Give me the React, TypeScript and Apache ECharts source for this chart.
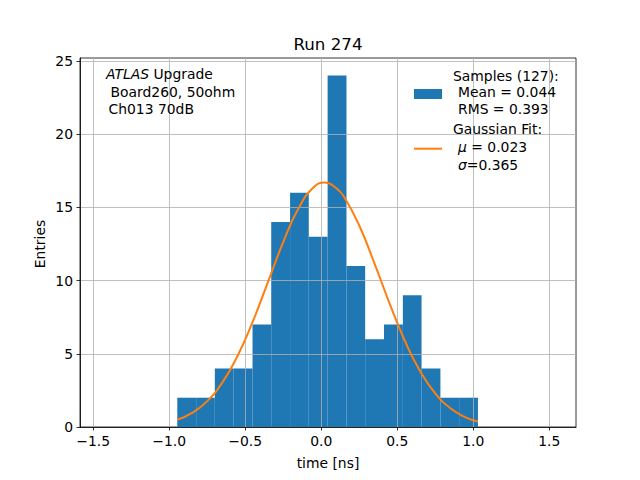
import * as echarts from 'echarts'
import { useEffect, useRef } from 'react'

// histogram bins (time in ns) and entries per bin
const binEdges = [-0.947, -0.823, -0.7, -0.576, -0.452, -0.329, -0.205, -0.082, 0.042, 0.166, 0.289, 0.413, 0.537, 0.66, 0.784, 0.907, 1.031]
const counts = [2, 2, 4, 4, 7, 14, 16, 13, 24, 11, 6, 7, 9, 4, 2, 2]

// gaussian fit curve
const fitX = [-0.947, -0.85, -0.75, -0.65, -0.55, -0.45, -0.35, -0.25, -0.15, -0.05, 0.023, 0.1, 0.15, 0.25, 0.35, 0.45, 0.55, 0.65, 0.75, 0.85, 0.95, 1.031]
const fitY = [0.49, 0.96, 1.77, 3.05, 4.87, 7.21, 9.91, 12.62, 14.92, 16.37, 16.7, 16.3, 15.72, 13.76, 11.18, 8.43, 5.89, 3.82, 2.3, 1.28, 0.66, 0.37]

const xTicks = [-1.5, -1.0, -0.5, 0.0, 0.5, 1.0, 1.5]
const yTicks = [0, 5, 10, 15, 20, 25]

const FONT = 'DejaVu Sans'
const FS = 13.9

const txt = (x: number, y: number, text: string, extra: any = {}) => ({
  type: 'text',
  x,
  y,
  z: 10,
  style: {
    text,
    fontFamily: FONT,
    fontSize: FS,
    fill: '#000',
    verticalAlign: 'middle',
    ...extra
  }
})

const App = () => {
  const ref = useRef<HTMLDivElement>(null)

  useEffect(() => {
    document.body.style.margin = '0'
    if (!ref.current) return
    const chart = echarts.init(ref.current, null, { renderer: 'svg' })

    const histData = counts.map((c, i) => [binEdges[i], binEdges[i + 1], c])
    const fitData = fitX.map((x, i) => [x, fitY[i]])

    const axisCommon = {
      z: 3,
      axisLine: { show: true, onZero: false, lineStyle: { color: '#000', width: 0.8 } },
      axisTick: { show: true, inside: false, length: 3.5, lineStyle: { color: '#000', width: 0.8 } },
      splitLine: { show: true, lineStyle: { color: '#b0b0b0', width: 0.8 } },
    }

    chart.setOption({
      animation: false,
      grid: { left: 80, right: 64, top: 58, bottom: 53, show: true, borderColor: '#000', borderWidth: 0.8, backgroundColor: 'transparent' },
      xAxis: {
        type: 'value',
        min: -1.587,
        max: 1.676,
        ...axisCommon,
        axisTick: { ...axisCommon.axisTick, customValues: xTicks },
        axisLabel: {
          customValues: xTicks,
          margin: 7,
          fontFamily: FONT,
          fontSize: FS,
          color: '#000',
          formatter: (v: number) => v.toFixed(1).replace('-', '\u2212')
        }
      },
      yAxis: {
        type: 'value',
        min: 0,
        max: 25.2,
        ...axisCommon,
        axisTick: { ...axisCommon.axisTick, customValues: yTicks },
        axisLabel: {
          customValues: yTicks,
          margin: 7,
          fontFamily: FONT,
          fontSize: FS,
          color: '#000'
        }
      },
      series: [
        {
          type: 'custom',
          z: 2,
          data: histData,
          encode: { x: [0, 1], y: 2 },
          renderItem: (_params: any, api: any) => {
            const p0 = api.coord([api.value(0), api.value(2)])
            const p1 = api.coord([api.value(1), 0])
            return {
              type: 'rect',
              shape: { x: p0[0], y: p0[1], width: p1[0] - p0[0], height: p1[1] - p0[1] },
              style: { fill: '#1f77b4' }
            }
          }
        },
        {
          type: 'line',
          z: 5,
          data: fitData,
          smooth: true,
          showSymbol: false,
          symbol: 'none',
          lineStyle: { color: '#ff7f0e', width: 2 }
        }
      ],
      graphic: [
        txt(328, 44, 'Run 274', { fontSize: 16.7, align: 'center' }),
        txt(328, 463, 'time [ns]', { align: 'center' }),
        { ...txt(40, 244, 'Entries', { align: 'center' }), rotation: Math.PI / 2 },
        {
          type: 'text', x: 106, y: 74, z: 10,
          style: {
            text: '{i|ATLAS} Upgrade',
            fontFamily: FONT, fontSize: FS, fill: '#000', verticalAlign: 'middle',
            rich: { i: { fontStyle: 'italic', fontFamily: FONT, fontSize: FS, fill: '#000' } }
          }
        },
        txt(110.5, 92.3, 'Board260, 50ohm'),
        txt(108.5, 109.3, 'Ch013 70dB'),
        // legend
        { type: 'rect', z: 10, shape: { x: 414, y: 89, width: 28, height: 10 }, style: { fill: '#1f77b4' } },
        txt(453, 76, 'Samples (127):'),
        txt(458, 92.3, 'Mean = 0.044'),
        txt(458, 109.3, 'RMS = 0.393'),
        { type: 'line', z: 10, shape: { x1: 414, y1: 148.7, x2: 442, y2: 148.7 }, style: { stroke: '#ff7f0e', lineWidth: 2 } },
        txt(453, 129.3, 'Gaussian Fit:'),
        {
          type: 'text', x: 458, y: 147.3, z: 10,
          style: {
            text: '{i|μ} = 0.023',
            fontFamily: FONT, fontSize: FS, fill: '#000', verticalAlign: 'middle',
            rich: { i: { fontStyle: 'italic', fontFamily: FONT, fontSize: FS, fill: '#000' } }
          }
        },
        {
          type: 'text', x: 458, y: 165.3, z: 10,
          style: {
            text: '{i|σ}=0.365',
            fontFamily: FONT, fontSize: FS, fill: '#000', verticalAlign: 'middle',
            rich: { i: { fontStyle: 'italic', fontFamily: FONT, fontSize: FS, fill: '#000' } }
          }
        }
      ]
    })

    return () => chart.dispose()
  }, [])

  return <div ref={ref} style={{ width: 640, height: 480 }} />
}

export default App
